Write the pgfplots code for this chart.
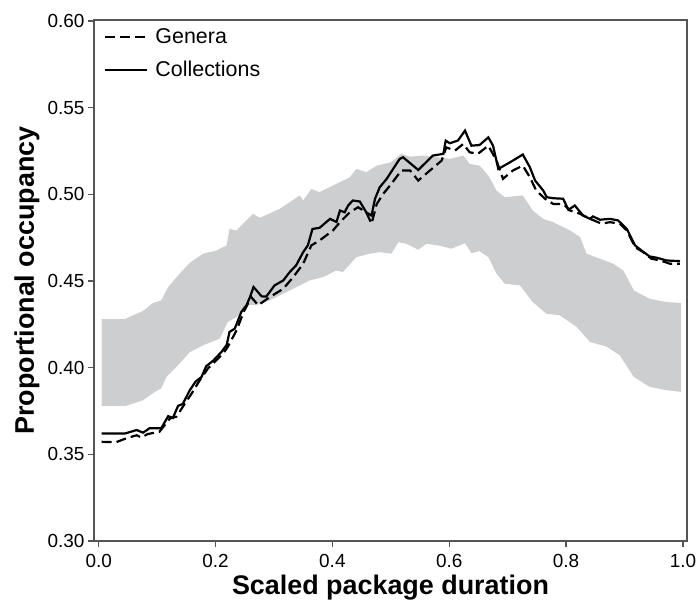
\documentclass[border=0pt]{standalone}
\usepackage{fontspec}
\setmainfont{Liberation Sans}
\usepackage{pgfplots}
\usepackage{pgfplotstable}
\pgfplotsset{compat=1.18}
\usepgfplotslibrary{fillbetween}
\definecolor{bandgray}{RGB}{205,206,208}
\definecolor{framegray}{RGB}{85,85,85}

\pgfplotstableread{
x y
0.005 0.3572
0.030 0.3570
0.047 0.3592
0.065 0.3610
0.073 0.3597
0.084 0.3617
0.104 0.3630
0.122 0.3707
0.133 0.3717
0.144 0.3774
0.159 0.3850
0.173 0.3927
0.187 0.3995
0.213 0.4081
0.221 0.4120
0.236 0.4215
0.248 0.4320
0.261 0.4407
0.273 0.4360
0.293 0.4407
0.316 0.4455
0.333 0.4522
0.350 0.4599
0.364 0.4705
0.378 0.4733
0.401 0.4791
0.413 0.4839
0.430 0.4896
0.444 0.4925
0.458 0.4896
0.467 0.4830
0.476 0.4944
0.487 0.5002
0.501 0.5060
0.518 0.5137
0.533 0.5137
0.547 0.5079
0.567 0.5137
0.587 0.5194
0.595 0.5270
0.610 0.5252
0.624 0.5290
0.635 0.5242
0.649 0.5233
0.667 0.5280
0.681 0.5194
0.692 0.5089
0.709 0.5137
0.726 0.5165
0.738 0.5098
0.749 0.5021
0.764 0.4974
0.778 0.4944
0.795 0.4944
0.807 0.4906
0.824 0.4887
0.841 0.4858
0.861 0.4830
0.875 0.4839
0.892 0.4830
0.904 0.4791
0.918 0.4695
0.932 0.4666
0.946 0.4628
0.961 0.4618
0.978 0.4599
0.995 0.4599
}\genera

\pgfplotstableread{
x y
0.005 0.3620
0.045 0.3620
0.065 0.3640
0.076 0.3625
0.087 0.3650
0.107 0.3650
0.119 0.3720
0.127 0.3710
0.136 0.3780
0.144 0.3790
0.156 0.3870
0.166 0.3920
0.176 0.3946
0.184 0.4008
0.196 0.4040
0.210 0.4090
0.219 0.4130
0.224 0.4206
0.233 0.4225
0.244 0.4320
0.253 0.4360
0.259 0.4407
0.265 0.4465
0.279 0.4411
0.287 0.4410
0.301 0.4474
0.316 0.4503
0.327 0.4551
0.338 0.4590
0.350 0.4666
0.358 0.4705
0.366 0.4800
0.378 0.4806
0.396 0.4858
0.407 0.4840
0.413 0.4906
0.421 0.4896
0.427 0.4935
0.435 0.4964
0.447 0.4958
0.458 0.4896
0.467 0.4877
0.473 0.4974
0.481 0.5040
0.493 0.5089
0.504 0.5146
0.515 0.5203
0.521 0.5213
0.547 0.5140
0.572 0.5223
0.590 0.5233
0.594 0.5309
0.601 0.5294
0.615 0.5310
0.627 0.5367
0.638 0.5280
0.652 0.5284
0.667 0.5328
0.675 0.5280
0.684 0.5146
0.704 0.5184
0.726 0.5229
0.738 0.5156
0.747 0.5079
0.761 0.5021
0.767 0.4983
0.778 0.4977
0.795 0.4974
0.804 0.4910
0.815 0.4935
0.829 0.4877
0.841 0.4858
0.846 0.4872
0.858 0.4853
0.875 0.4858
0.889 0.4849
0.904 0.4800
0.918 0.4705
0.929 0.4676
0.943 0.4641
0.955 0.4634
0.972 0.4618
0.995 0.4614
}\collections

\pgfplotstableread{
x y
0.005 0.4280
0.045 0.4280
0.059 0.4302
0.076 0.4327
0.093 0.4373
0.107 0.4388
0.119 0.4465
0.136 0.4532
0.156 0.4605
0.179 0.4657
0.202 0.4676
0.219 0.4705
0.224 0.4800
0.236 0.4791
0.264 0.4887
0.276 0.4864
0.310 0.4916
0.344 0.4993
0.350 0.4964
0.364 0.5031
0.378 0.5012
0.407 0.5060
0.430 0.5098
0.441 0.5146
0.458 0.5127
0.476 0.5165
0.500 0.5184
0.518 0.5233
0.533 0.5217
0.555 0.5223
0.581 0.5213
0.601 0.5204
0.624 0.5223
0.635 0.5175
0.652 0.5165
0.667 0.5108
0.681 0.5021
0.695 0.4983
0.726 0.4993
0.743 0.4906
0.761 0.4858
0.778 0.4839
0.807 0.4791
0.824 0.4753
0.835 0.4657
0.858 0.4628
0.881 0.4599
0.898 0.4560
0.916 0.4445
0.943 0.4397
0.972 0.4378
0.997 0.4373
}\bandupper

\pgfplotstableread{
x y
0.005 0.3780
0.047 0.3780
0.076 0.3812
0.096 0.3860
0.107 0.3880
0.116 0.3946
0.136 0.4014
0.156 0.4090
0.179 0.4129
0.207 0.4167
0.221 0.4263
0.236 0.4292
0.253 0.4360
0.270 0.4360
0.293 0.4388
0.327 0.4445
0.350 0.4484
0.361 0.4503
0.384 0.4522
0.407 0.4560
0.418 0.4551
0.441 0.4637
0.464 0.4657
0.481 0.4666
0.501 0.4657
0.513 0.4724
0.527 0.4714
0.547 0.4680
0.561 0.4714
0.581 0.4705
0.604 0.4686
0.627 0.4718
0.638 0.4660
0.652 0.4672
0.667 0.4637
0.681 0.4542
0.695 0.4484
0.721 0.4474
0.743 0.4378
0.766 0.4311
0.789 0.4302
0.818 0.4235
0.841 0.4148
0.870 0.4120
0.892 0.4071
0.916 0.3946
0.943 0.3889
0.972 0.3870
0.997 0.3860
}\bandlower

\begin{document}
\begin{tikzpicture}
\begin{axis}[
  name=ax,
  scale only axis,
  width=593bp, height=521bp,
  xmin=-0.008, xmax=1.007,
  ymin=0.30, ymax=0.6005,
  xtick={0,0.2,0.4,0.6,0.8,1.0},
  ytick={0.3,0.35,0.4,0.45,0.5,0.55,0.6},
  xticklabel style={/pgf/number format/fixed,/pgf/number format/fixed zerofill,/pgf/number format/precision=1, yshift=-4bp},
  yticklabel style={/pgf/number format/fixed,/pgf/number format/fixed zerofill,/pgf/number format/precision=2},
  /pgf/number format/assume math mode=true,
  tick label style={font=\fontsize{19}{21}\selectfont},
  tick align=outside,
  major tick length=6bp,
  tick pos=left,
  axis line style={framegray, line width=1.3bp},
  every tick/.style={framegray, line width=1.3bp},
  xlabel={Scaled package duration},
  ylabel={Proportional occupancy},
  label style={font=\fontsize{27}{29}\selectfont\bfseries},
  xlabel style={at={(axis description cs:0.5,-0.1036)}, anchor=base},
  ylabel style={at={(axis description cs:-0.1012,0.5)}, anchor=base},
  legend style={at={(axis description cs:0.012,0.991)}, anchor=north west,
    draw=none, fill=none, font=\fontsize{21.5}{24}\selectfont, row sep=12bp},
  legend cell align=left,
  legend image code/.code={\draw[#1] (0bp,0bp) -- (42bp,0bp); \path (47bp,0bp);},
]
\addplot[name path=U, draw=none, forget plot] table {\bandupper};
\addplot[name path=L, draw=none, forget plot] table {\bandlower};
\addplot[bandgray, forget plot] fill between[of=U and L];
\addplot[black, line width=2.2bp, dash pattern=on 10bp off 5bp] table {\genera};
\addlegendentry{Genera}
\addplot[black, line width=2.2bp] table {\collections};
\addlegendentry{Collections}
\end{axis}
\pgfresetboundingbox
\path ([shift={(-94bp,-59bp)}]ax.south west) rectangle ([shift={(11bp,20bp)}]ax.north east);
\end{tikzpicture}
\end{document}
